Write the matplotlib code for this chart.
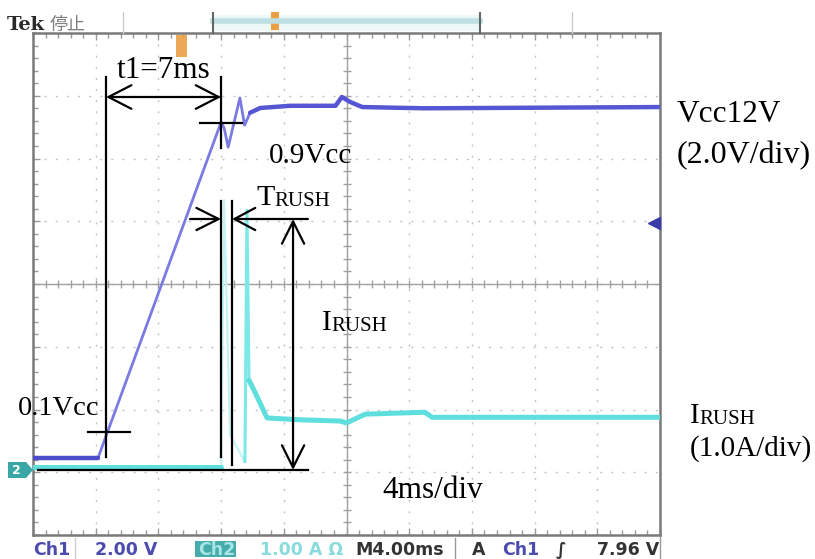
"""
Oscilloskopbilete: Vcc (Ch1) og innkoplingsstraum (Ch2) ved oppstart.
"""

import numpy as np
import matplotlib.pyplot as plt
from matplotlib.patches import Rectangle, Polygon

# Skalering på skjermen
t_div = 4.0          # ms/div
v_div = 2.0          # V/div
i_div = 1.0          # A/div
ch1_offset = 1.23    # div frå botn til 0 V
ch2_offset = 1.036   # div frå botn til 0 A

# Ch1: Vcc (ms, V)
vcc_t = [0, 4.15, 12.0, 12.2, 12.45, 13.2, 13.5, 13.85, 14.5, 16.4, 19.3, 19.7, 20.2, 21.0, 25.0, 40]
vcc_v = [0.0, 0.0, 10.7, 10.5, 9.9, 11.47, 10.6, 11.0, 11.15, 11.22, 11.22, 11.5, 11.35, 11.18, 11.14, 11.18]

# Ch2: straum (ms, A)
irush_t = [0, 12.0, 12.19, 12.57, 13.52, 13.65, 13.78, 14.16, 14.93, 17.0, 19.6, 20.0, 21.2, 25.0, 25.45, 40]
irush_a = [0.05, 0.05, 4.3, 0.56, 0.13, 4.14, 1.43, 1.24, 0.83, 0.80, 0.78, 0.75, 0.89, 0.92, 0.84, 0.84]

# Målepunkt
t_10, v_10 = 4.66, 0.82      # 0.1 Vcc
t_90, v_90 = 12.0, 10.67     # 0.9 Vcc
t_rush = [12.0, 12.7]        # TRUSH
i_peak = 4.0                 # IRUSH
trig_level = 7.5             # V

########### Slutt på input ##################

W, H = 815, 559
fig = plt.figure(figsize=(W / 100, H / 100), dpi=100)

# Skjerm / rutenett
ax = fig.add_axes([33 / W, (H - 535) / H, 627 / W, 502 / H])
ax.set_xlim(0, 10 * t_div)
ax.set_ylim(0, 8)
ax.set_xticks(np.arange(0, 10 * t_div + 0.1, t_div))
ax.set_xticks(np.arange(0, 10 * t_div + 0.1, t_div / 5), minor=True)
ax.set_yticks(np.arange(0, 9))
ax.set_yticks(np.arange(0, 8.01, 0.2), minor=True)
ax.tick_params(which='both', direction='in', top=True, right=True,
               labelbottom=False, labelleft=False, color='#999999')
ax.tick_params(which='major', length=5, width=1)
ax.tick_params(which='minor', length=3.5, width=1)
ax.grid(True, color='#c4c4c4', linestyle=(0, (1.5, 6.5)), linewidth=1)
for s in ax.spines.values():
    s.set_color('#7a7a7a')
    s.set_linewidth(1.8)

# Midtkors med små streker
ax.axvline(5 * t_div, color='#a0a0a0', lw=1)
ax.axhline(4, color='#a0a0a0', lw=1)
mx = np.arange(0, 10 * t_div + 0.1, t_div / 5)
my = np.arange(0, 8.01, 0.2)
ax.plot(mx, np.full(len(mx), 4), ls='none', marker='|', ms=6, color='#a0a0a0')
ax.plot(np.full(len(my), 5 * t_div), my, ls='none', marker='_', ms=6, color='#a0a0a0')

# Akse for volt og for ampere
ax_v = ax.twinx()
ax_v.set_ylim(-ch1_offset * v_div, (8 - ch1_offset) * v_div)
ax_v.axis('off')
ax_i = ax.twinx()
ax_i.set_ylim(-ch2_offset * i_div, (8 - ch2_offset) * i_div)
ax_i.axis('off')

# Kurver: raske overgangar teiknast tynnare og lysare, som på skjermen
rj = dict(solid_joinstyle='round', solid_capstyle='round')
ax_i.plot(irush_t[1:5], irush_a[1:5], color='#c2f4f4', lw=1.6, **rj)
ax_i.plot(irush_t[4:8], irush_a[4:8], color='#7ce8e8', lw=2.2, **rj)
ax_i.plot(irush_t[:2], irush_a[:2], color='#5fdede', lw=3.6, **rj)
ax_i.plot(irush_t[6:], irush_a[6:], color='#5fdede', lw=3.6, **rj)

ax_v.plot(vcc_t[1:8], vcc_v[1:8], color='#7a7ae2', lw=2.0, **rj)
ax_v.plot(vcc_t[:2], vcc_v[:2], color='#4d4dcc', lw=3.2, **rj)
ax_v.plot(vcc_t[7:], vcc_v[7:], color='#5656d4', lw=3.2, **rj)

# Trigger-nivå markør
ax_v.plot([39.6], [trig_level], marker='<', ms=8, color='#3a3aa8', clip_on=False)

# Målelinjer
k = dict(color='k', lw=1.6)
arr = dict(color='k', lw=1.6, shrinkA=0, shrinkB=0, mutation_scale=10)
ax_v.plot([t_10, t_10], [12.14, 0.03], **k)
ax_v.plot([t_90, t_90], [12.14, 9.87], **k)
ax_v.annotate('', xy=(t_90, 11.5), xytext=(t_10, 11.5),
              arrowprops=dict(arrowstyle='<->,head_length=1.65,head_width=0.85', **arr))
ax_v.plot([10.65, 13.33], [v_90, v_90], **k)
ax_v.plot([3.51, 6.19], [v_10, v_10], **k)

ax_i.plot([t_rush[0], t_rush[0]], [4.29, 0.21], **k)
ax_i.plot([t_rush[1], t_rush[1]], [4.29, 0.08], **k)
ax_i.annotate('', xy=(t_rush[0], i_peak), xytext=(10.02, i_peak),
              arrowprops=dict(arrowstyle='->,head_length=1.6,head_width=0.8', **arr))
ax_i.annotate('', xy=(t_rush[1], i_peak), xytext=(17.54, i_peak),
              arrowprops=dict(arrowstyle='->,head_length=1.5,head_width=0.8', **arr))
ax_i.annotate('', xy=(16.59, 0), xytext=(16.59, i_peak),
              arrowprops=dict(arrowstyle='<->,head_length=1.6,head_width=0.8', **arr))
ax_i.plot([0.32, 17.54], [0, 0], **k)

# Ramme rundt skjermen: toppfelt, botnfelt og tekst
deco = fig.add_axes([0, 0, 1, 1], zorder=5)
deco.set_xlim(0, W)
deco.set_ylim(H, 0)
deco.axis('off')
deco.patch.set_alpha(0)

deco.text(7, 30, 'Tek', fontsize=14, fontweight='bold', color='#2a2a2a',
          family=['DejaVu Serif'])
deco.text(50, 30, '停止', fontsize=13, color='#808080',
          family=['Noto Sans CJK JP', 'DejaVu Sans'])
for xs in [123, 572]:
    deco.plot([xs, xs], [12, 33], color='#cccccc', lw=1)
deco.add_patch(Rectangle((213, 15), 267, 16, facecolor='#eef8f8', edgecolor='none'))
deco.plot([213, 480], [21, 21], color='#bfe0e2', lw=4)
deco.plot([213, 213], [13, 33], color='#666666', lw=1.5)
deco.plot([480, 480], [13, 33], color='#666666', lw=1.5)
deco.add_patch(Rectangle((271, 12), 8, 18, facecolor='#e9a045', edgecolor='none'))
deco.add_patch(Rectangle((176, 35), 11, 22, facecolor='#e9a045', edgecolor='none', alpha=0.9))

# Kanal-2 markør
deco.add_patch(Polygon([[8, 462], [26, 462], [33, 470], [26, 478], [8, 478]],
                       facecolor='#3aa6a6', edgecolor='none'))
deco.text(16, 470, '2', fontsize=9, fontweight='bold', color='white', ha='center', va='center')

# Botnfelt
bb = dict(fontsize=12.5, fontweight='bold', va='baseline', family=['DejaVu Sans'])
deco.text(33, 555, 'Ch1', color='#4b4bb0', **bb)
deco.plot([75, 75], [538, 558], color='#cccccc', lw=1)
deco.text(95, 555, '2.00 V', color='#4b4bb0', **bb)
deco.add_patch(Rectangle((195, 541), 41, 16, facecolor='#45abab', edgecolor='none'))
deco.text(198, 555, 'Ch2', color='#a8e6e6', **bb)
deco.text(260, 555, '1.00 A Ω', color='#8adcdc', **bb)
deco.text(355, 555, 'M4.00ms', color='#333333', **bb)
deco.plot([455, 455], [538, 558], color='#999999', lw=1)
deco.text(472, 555, 'A', color='#333333', **bb)
deco.text(502, 555, 'Ch1', color='#4b4bb0', **bb)
deco.text(556, 555, '∫', color='#333333', **bb)
deco.text(597, 555, '7.96 V', color='#333333', **bb)
deco.plot([660, 660], [536, 558], color='#999999', lw=1)

# Merketekstar
sf = ['Liberation Serif', 'DejaVu Serif']
tx = dict(family=sf, color='k', va='baseline')
deco.text(117, 78, 't1=7ms', fontsize=22.5, **tx)
deco.text(269, 163, '0.9Vcc', fontsize=21, **tx)
deco.text(18, 415, '0.1Vcc', fontsize=20.5, **tx)
deco.text(382, 498, '4ms/div', fontsize=22.5, **tx)
deco.text(677, 122, 'Vcc12V', fontsize=22.5, **tx)
deco.text(677, 163, '(2.0V/div)', fontsize=23, **tx)
deco.text(690, 456, '(1.0A/div)', fontsize=21, **tx)


def small_caps(x, y, big, rest, size, size_small):
    t = deco.text(x, y, big, fontsize=size, family=sf, va='baseline')
    deco.annotate(rest, xy=(1, 0), xycoords=t, fontsize=size_small, family=sf,
                  va='bottom', ha='left')


small_caps(256, 205, 'T', 'RUSH', 21.5, 15)
small_caps(322, 330, 'I', 'RUSH', 21, 15)
small_caps(690, 423, 'I', 'RUSH', 21, 15)

fig.savefig('out.png', dpi=100)
